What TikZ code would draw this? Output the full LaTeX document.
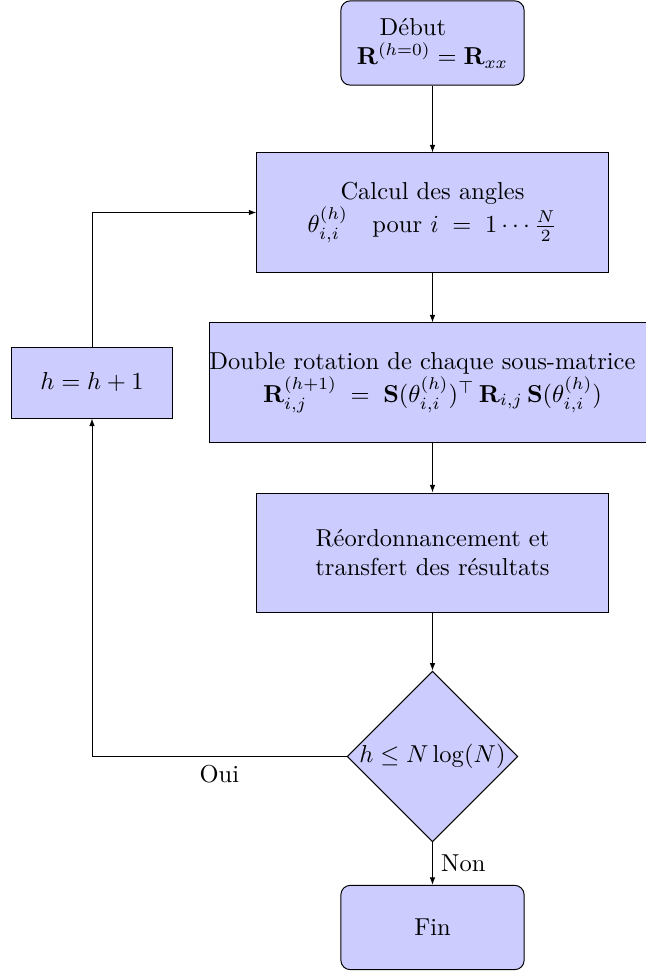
\documentclass[tikz,border=0pt]{standalone}
\usepackage{amsmath,amssymb}
\usetikzlibrary{shapes.geometric,arrows.meta}
\begin{document}
\begin{tikzpicture}[x=0.4083pt,y=-0.4083pt,
  base/.style={draw=black,fill=blue!20,thin,align=center,inner sep=0pt},
  roundbox/.style={base,rounded corners=3.8pt,minimum width=74.8pt,minimum height=34.4pt},
  procbox/.style={base,minimum width=143.4pt,minimum height=48.6pt},
  decbox/.style={base,diamond,aspect=1,minimum size=68.4pt},
  arr/.style={-{Latex[length=3.1pt,width=2.3pt]},thin}]
\useasboundingbox (0,0) rectangle (645,972);
\node[roundbox] (debut) at (432.5,43) {D\'ebut\hspace*{16pt}\\ $\mathbf{R}^{(h=0)}=\mathbf{R}_{xx}$};
\node[procbox] (calcul) at (432.5,212.5) {Calcul des angles\\ $\theta_{i,i}^{(h)}\quad \text{pour } i\;=\;1\cdots\frac{N}{2}$};
\node[procbox,minimum width=182.1pt] (rot) at (432.5,382.5) {Double rotation de chaque sous-matrice\hspace*{8.2pt}\\ $\mathbf{R}_{i,j}^{(h+1)}\;=\;\mathbf{S}(\theta_{i,i}^{(h)})^{\top}\,\mathbf{R}_{i,j}\,\mathbf{S}(\theta_{i,i}^{(h)})$};
\node[procbox] (reord) at (432.5,552.5) {R\'eordonnancement et\\ transfert des r\'esultats};
\node[decbox] (test) at (432.5,756.5) {$h\leq N\log(N)$};
\node[roundbox] (fin) at (432.5,927.5) {Fin};
\node[base,minimum width=65.4pt,minimum height=29pt] (inc) at (92,382.5) {$h = h+1$};
\coordinate (c1) at (92,756.5);
\coordinate (c2) at (92,212.5);
\draw[arr] (debut) -- (calcul);
\draw[arr] (calcul) -- (rot);
\draw[arr] (rot) -- (reord);
\draw[arr] (reord) -- (test);
\draw[arr] (test) -- node[right,pos=0.5] {Non} (fin);
\draw[arr] (test.west) -- node[below,pos=0.5] {Oui} (c1) -- (inc.south);
\draw[arr] (inc.north) -- (c2) -- (calcul.west);
\end{tikzpicture}
\end{document}
